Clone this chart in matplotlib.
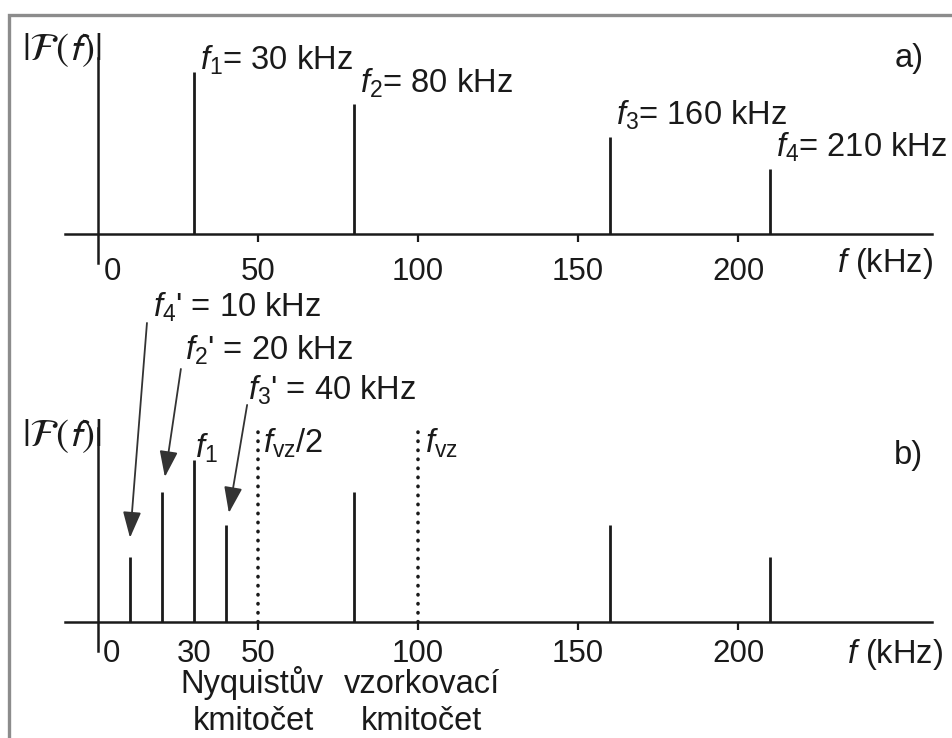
import matplotlib.pyplot as plt
from matplotlib.patches import Rectangle

plt.rcParams['font.family'] = ['Liberation Sans', 'DejaVu Sans']
plt.rcParams['mathtext.fontset'] = 'custom'
plt.rcParams['mathtext.rm'] = 'Liberation Sans'
plt.rcParams['mathtext.it'] = 'Liberation Sans:italic'
plt.rcParams['mathtext.sf'] = 'Liberation Sans'

# a) spectrum of the original signal (kHz, relative amplitude)
freq_a = [30, 80, 160, 210]
amp_a = [1.0, 0.8, 0.6, 0.4]
labels_a = [r'$f_1$= 30 kHz', r'$f_2$= 80 kHz', r'$f_3$= 160 kHz', r'$f_4$= 210 kHz']
ticks_a = [0, 50, 100, 150, 200]

# b) spectrum after sampling with f_vz = 100 kHz
freq_b = [10, 20, 30, 40, 80, 160, 210]
amp_b = [0.4, 0.8, 1.0, 0.6, 0.8, 0.6, 0.4]
ticks_b = [0, 30, 50, 100, 150, 200]

# aliased components
alias_freq = [10, 20, 40]
alias_amp = [0.4, 0.8, 0.6]
alias_labels = [r"$f_4$' = 10 kHz", r"$f_2$' = 20 kHz", r"$f_3$' = 40 kHz"]

f_vz = 100
tick_marks = [50, 100, 150, 200]

INK = '#1a1a1a'
FS = 23.5      # annotations
FS_TICK = 22.5 # tick numbers

fig = plt.figure(figsize=(9.52, 7.38), dpi=100)

# frame round the picture (cut off on the right and bottom)
fig.add_artist(Rectangle((9 / 952, -0.1), 1.2, (738 - 15) / 738 + 0.1,
                         transform=fig.transFigure, fill=False,
                         edgecolor='#8c8c8c', lw=2.4, clip_on=False))

ax_a = fig.add_axes([0, 438 / 738, 1, 300 / 738])
ax_b = fig.add_axes([0, 0, 1, 438 / 738])

# pixel scale: 3.2 px per kHz, 0 kHz at x=98 px; amplitude 1.0 = 162 px
ax_a.set_xlim(-98 / 3.2, (952 - 98) / 3.2)
ax_b.set_xlim(-98 / 3.2, (952 - 98) / 3.2)
ax_a.set_ylim(-66 / 162, 234 / 162)
ax_b.set_ylim(-116 / 162, 322 / 162)

for ax, ytop in [(ax_a, 1.086), (ax_b, 1.198)]:
    ax.patch.set_alpha(0)
    ax.spines['top'].set_visible(False)
    ax.spines['right'].set_visible(False)
    ax.spines['bottom'].set_position(('data', 0))
    ax.spines['left'].set_position(('data', 0))
    ax.spines['bottom'].set_bounds(-10.3, 260.6)
    ax.spines['left'].set_bounds(-0.179, ytop)
    for s in ['bottom', 'left']:
        ax.spines[s].set_linewidth(1.8)
        ax.spines[s].set_color(INK)
    ax.set_yticks([])
    ax.set_xticks(tick_marks, labels=[''] * len(tick_marks))
    ax.tick_params(axis='x', direction='out', length=5.5, width=1.6, color=INK)

# ---- panel a ----
ax_a.vlines(freq_a, 0, amp_a, color=INK, lw=2.0)
for f, a, lab, dy in zip(freq_a, amp_a, labels_a, [0.012, 0.07, 0.073, 0.075]):
    ax_a.text(f + 2, a + dy, lab, fontsize=FS, color=INK, ha='left', va='baseline')
for t in ticks_a:
    ax_a.text(t if t else 4.4, -0.284, str(t), fontsize=FS_TICK, color=INK,
              ha='center', va='baseline')
ax_a.text(230.9, -0.235, r'$f$ (kHz)', fontsize=FS, color=INK, ha='left', va='baseline')
ax_a.text(-23.8, 1.136, r'$|\mathcal{F}(f)|$', fontsize=28, color=INK,
          ha='left', va='center', math_fontfamily='stixsans')
ax_a.text(253.5, 1.086, 'a)', fontsize=FS, color=INK, ha='center', va='center')

# ---- panel b ----
ax_b.vlines(freq_b, 0, amp_b, color=INK, lw=2.0)
ax_b.vlines([f_vz / 2, f_vz], 0, 1.205, color=INK, lw=2.6,
            linestyles=[(0, (0.1, 2.4))], capstyle='round')
for t in ticks_b:
    ax_b.text(t if t else 4.2, -0.245, str(t), fontsize=FS_TICK, color=INK,
              ha='center', va='baseline')
ax_b.text(234, -0.253, r'$f$ (kHz)', fontsize=FS, color=INK, ha='left', va='baseline')
ax_b.text(-23.8, 1.148, r'$|\mathcal{F}(f)|$', fontsize=28, color=INK,
          ha='left', va='center', math_fontfamily='stixsans')
ax_b.text(253.1, 1.025, 'b)', fontsize=FS, color=INK, ha='center', va='center')
ax_b.text(30.3, 1.012, r'$f_1$', fontsize=FS, color=INK, ha='left', va='baseline')
ax_b.text(f_vz / 2 + 1.6, 1.043, r'$f_{\mathrm{vz}}$/2', fontsize=FS, color=INK,
          ha='left', va='baseline')
ax_b.text(f_vz + 2.2, 1.043, r'$f_{\mathrm{vz}}$', fontsize=FS, color=INK,
          ha='left', va='baseline')

ax_b.text(48.1, -0.440, 'Nyquistův', fontsize=FS, color=INK, ha='center', va='baseline')
ax_b.text(48.4, -0.665, 'kmitočet', fontsize=FS, color=INK, ha='center', va='baseline')
ax_b.text(101.2, -0.440, 'vzorkovací', fontsize=FS, color=INK, ha='center', va='baseline')
ax_b.text(101.0, -0.665, 'kmitočet', fontsize=FS, color=INK, ha='center', va='baseline')

# alias labels with arrows pointing to the folded lines
label_pos = [(17.2, 1.883), (27.2, 1.617), (46.9, 1.370)]
arrow_start = [(15.3, 1.846), (25.9, 1.562), (46.6, 1.340)]
tip_gap = [(0.0, 0.12), (0.9, 0.095), (0.9, 0.073)]
for f, a, lab, lp, st, gap in zip(alias_freq, alias_amp, alias_labels,
                                  label_pos, arrow_start, tip_gap):
    ax_b.text(lp[0], lp[1], lab, fontsize=FS, color=INK, ha='left', va='baseline')
    ax_b.annotate('', xy=(f + gap[0], a + gap[1]), xytext=st,
                  arrowprops=dict(arrowstyle='-|>,head_length=0.8,head_width=0.28',
                                  mutation_scale=20, lw=1.3, color='#333333',
                                  shrinkA=0, shrinkB=0))

fig.savefig('out.png', dpi=100)
